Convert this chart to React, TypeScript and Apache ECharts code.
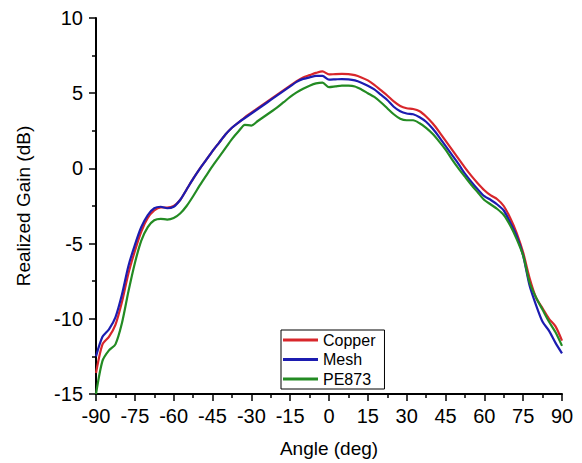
import React, { useEffect, useRef } from "react";
import * as echarts from "echarts";

const angles: number[] = [];
for (let a = -90; a <= 90; a += 2.5) angles.push(a);

const copper = [
  -13.6, -11.7, -11.2, -10.4, -8.9, -7.0, -5.5, -4.2, -3.3, -2.8, -2.6, -2.6, -2.5,
  -2.1, -1.4, -0.7, -0.05, 0.55, 1.15, 1.7, 2.25, 2.7, 3.05, 3.4, 3.7, 4.0, 4.3,
  4.6, 4.9, 5.2, 5.5, 5.8, 6.05, 6.2, 6.35, 6.45, 6.25, 6.27, 6.28, 6.27, 6.2,
  6.05, 5.85, 5.55, 5.2, 4.85, 4.45, 4.15, 4.0, 3.95, 3.8, 3.45, 3.0, 2.45, 1.85,
  1.25, 0.65, 0.05, -0.5, -1.0, -1.45, -1.8, -2.05, -2.5, -3.3, -4.3, -5.6, -7.3,
  -8.6, -9.3, -10.0, -10.5, -11.45,
];

const mesh = [
  -12.5, -11.2, -10.7, -9.9, -8.4, -6.5, -5.1, -3.9, -3.1, -2.65, -2.55, -2.65,
  -2.55, -2.1, -1.4, -0.7, -0.05, 0.55, 1.15, 1.7, 2.25, 2.7, 3.05, 3.35, 3.65,
  3.95, 4.25, 4.55, 4.85, 5.15, 5.45, 5.75, 5.95, 6.05, 6.15, 6.15, 5.9, 5.92,
  5.94, 5.92, 5.85, 5.7, 5.5, 5.25, 4.9, 4.55, 4.1, 3.8, 3.65, 3.6, 3.4, 3.1,
  2.65, 2.1, 1.5, 0.9, 0.3, -0.35, -0.9, -1.4, -1.85, -2.1, -2.4, -2.8, -3.6,
  -4.5, -5.8, -7.8, -9.1, -10.2, -10.8, -11.6, -12.3,
];

const pe873 = [
  -15.0, -12.8, -12.1, -11.7, -10.3, -8.2, -6.3, -4.8, -3.9, -3.45, -3.35, -3.4,
  -3.3, -3.0, -2.5, -1.85, -1.15, -0.5, 0.15, 0.75, 1.35, 1.95, 2.45, 2.9, 2.85,
  3.15, 3.45, 3.75, 4.05, 4.4, 4.75, 5.05, 5.3, 5.5, 5.65, 5.7, 5.4, 5.45, 5.5,
  5.5, 5.45, 5.25, 5.0, 4.75, 4.4, 4.0, 3.6, 3.3, 3.2, 3.2, 3.0, 2.7, 2.3, 1.8,
  1.25, 0.6, 0.0, -0.55, -1.1, -1.6, -2.1, -2.4, -2.7, -3.1, -3.8, -4.7, -5.8,
  -7.6, -8.6, -9.4, -10.2, -10.9, -11.8,
];

const seriesNames = ["Copper", "Mesh", "PE873"];
const seriesColors = ["#d8262b", "#1c1cb0", "#238b23"];
const seriesValues = [copper, mesh, pe873];

const FONT = "Arial, 'Liberation Sans', sans-serif";

export default function App() {
  const ref = useRef<HTMLDivElement>(null);
  useEffect(() => {
    if (!ref.current) return;
    const chart = echarts.init(ref.current, undefined, { renderer: "svg" });
    chart.setOption({
      animation: false,
      backgroundColor: "#ffffff",
      grid: { left: 96, right: 20, top: 18, bottom: 69, containLabel: false },
      legend: {
        orient: "vertical",
        left: 281,
        top: 330,
        padding: [2, 9, 2, 2],
        itemGap: 3.5,
        itemWidth: 35,
        itemHeight: 3,
        icon: "rect",
        borderColor: "#000",
        borderWidth: 1,
        textStyle: { fontFamily: FONT, fontSize: 16, color: "#000", lineHeight: 16 },
        data: seriesNames,
      },
      xAxis: {
        type: "value",
        min: -90,
        max: 90,
        interval: 15,
        name: "Angle (deg)",
        nameLocation: "middle",
        nameGap: 45,
        nameTextStyle: { fontFamily: FONT, fontSize: 19, color: "#000" },
        axisLine: { show: true, onZero: false, lineStyle: { color: "#000", width: 2 } },
        axisTick: { show: true, length: 7, lineStyle: { color: "#000", width: 1.5 } },
        minorTick: { show: true, splitNumber: 2, length: 4, lineStyle: { color: "#000", width: 1.5 } },
        splitLine: { show: false },
        axisLabel: { fontFamily: FONT, fontSize: 20, color: "#000", margin: 12 },
      },
      yAxis: {
        type: "value",
        min: -15,
        max: 10,
        interval: 5,
        name: "Realized Gain (dB)",
        nameLocation: "middle",
        nameGap: 63,
        nameTextStyle: { fontFamily: FONT, fontSize: 19, color: "#000" },
        axisLine: { show: true, onZero: false, lineStyle: { color: "#000", width: 2 } },
        axisTick: { show: true, length: 7, lineStyle: { color: "#000", width: 1.5 } },
        minorTick: { show: true, splitNumber: 2, length: 4, lineStyle: { color: "#000", width: 1.5 } },
        splitLine: { show: false },
        axisLabel: { fontFamily: FONT, fontSize: 20, color: "#000", margin: 13 },
      },
      series: seriesNames.map((name, i) => ({
        name,
        type: "line",
        showSymbol: false,
        symbol: "none",
        smooth: 0.25,
        color: seriesColors[i],
        lineStyle: { color: seriesColors[i], width: 2.2 },
        data: angles.map((a, j) => [a, seriesValues[i][j]]),
      })),
    });
    return () => chart.dispose();
  }, []);
  return (
    <div
      ref={ref}
      style={{ position: "fixed", left: 0, top: 0, width: 582, height: 463, background: "#fff" }}
    />
  );
}
